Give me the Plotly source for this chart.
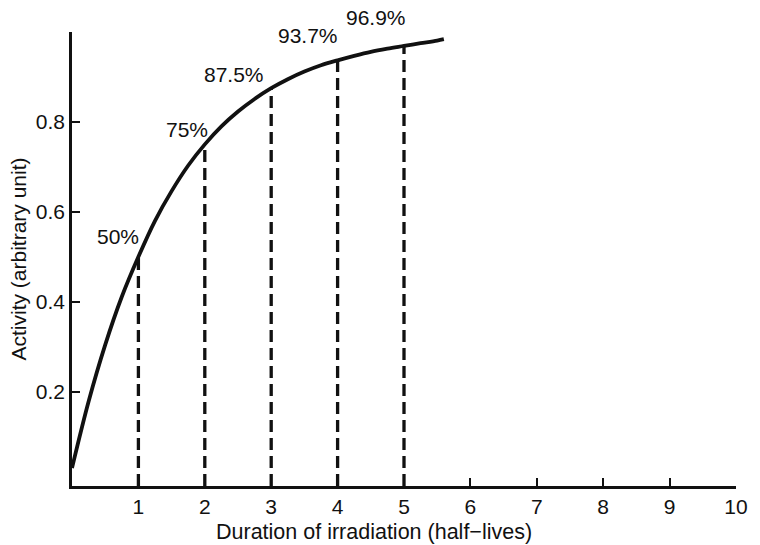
import plotly.graph_objects as go

# Activity build-up during irradiation (points along the curve, every quarter half-life)
curve_x = [0.0, 0.25, 0.5, 0.75, 1.0, 1.25, 1.5, 1.75, 2.0, 2.25, 2.5, 2.75, 3.0,
           3.25, 3.5, 3.75, 4.0, 4.25, 4.5, 4.75, 5.0, 5.25, 5.5, 5.6]
curve_y = [0.03, 0.178, 0.304, 0.411, 0.5, 0.58, 0.646, 0.703, 0.75, 0.79, 0.823, 0.851,
           0.875, 0.895, 0.912, 0.926, 0.937, 0.947, 0.956, 0.963, 0.969, 0.975, 0.981, 0.984]

# Marked half-lives and their saturation fractions
half_lives = [1, 2, 3, 4, 5]
fractions = [0.5, 0.75, 0.875, 0.937, 0.969]
fraction_labels = ["50%", "75%", "87.5%", "93.7%", "96.9%"]
label_x = [0.70, 1.73, 2.44, 3.56, 4.58]
label_y = [0.546, 0.783, 0.906, 0.992, 1.033]

x_ticks = [1, 2, 3, 4, 5, 6, 7, 8, 9, 10]
y_ticks = [0.2, 0.4, 0.6, 0.8, 1.0]
y_tick_text = ["0.2", "0.4", "0.6", "0.8", ""]

X_RANGE = [0, 10]
Y_RANGE = [-0.01, 1.0]

FONT = "Liberation Sans, Arial, Helvetica, sans-serif"
INK = "#111111"
FS = 21

fig = go.Figure()

# Vertical dashed drops from each marked half-life up to the curve
for hx, fy in zip(half_lives, fractions):
    fig.add_trace(go.Scatter(
        x=[hx, hx], y=[Y_RANGE[0], fy], mode="lines",
        line=dict(color=INK, width=3.3, dash="12px,6px"),
        hoverinfo="skip", showlegend=False, cliponaxis=False,
    ))

fig.add_trace(go.Scatter(
    x=curve_x, y=curve_y, mode="lines",
    line=dict(color=INK, width=3.8, shape="spline", smoothing=1.0),
    showlegend=False, cliponaxis=False,
))


def to_paper(v, rng):
    return (v - rng[0]) / (rng[1] - rng[0])


# Percentage labels next to the curve (paper coordinates so the top one
# may sit above the axis range)
for tx, ty, t in zip(label_x, label_y, fraction_labels):
    fig.add_annotation(
        x=to_paper(tx, X_RANGE), y=to_paper(ty, Y_RANGE),
        xref="paper", yref="paper", text=t, showarrow=False,
        font=dict(family=FONT, size=FS, color=INK),
        xanchor="center", yanchor="middle",
    )

fig.add_annotation(
    x=(379 - 72) / 674, y=-0.102, xref="paper", yref="paper",
    text="Duration of irradiation (half\u2212lives)", showarrow=False,
    font=dict(family=FONT, size=21.5, color=INK),
    xanchor="center", yanchor="middle",
)

fig.update_layout(
    width=760, height=545,
    margin=dict(l=72, r=14, t=32, b=59),
    paper_bgcolor="white", plot_bgcolor="white",
    font=dict(family=FONT, size=FS, color=INK),
    showlegend=False,
)

fig.update_xaxes(
    range=X_RANGE, tickvals=x_ticks,
    tickfont=dict(family=FONT, size=FS, color=INK),
    ticks="inside", ticklen=8, tickwidth=2, tickcolor=INK,
    showline=True, linecolor=INK, linewidth=2.5,
    showgrid=False, zeroline=False,
)
fig.update_yaxes(
    range=Y_RANGE, tickvals=y_ticks, ticktext=y_tick_text,
    tickfont=dict(family=FONT, size=FS, color=INK),
    ticks="inside", ticklen=8, tickwidth=2, tickcolor=INK,
    showline=True, linecolor=INK, linewidth=2.5,
    showgrid=False, zeroline=False,
    title=dict(text="Activity (arbitrary unit)", standoff=4,
               font=dict(family=FONT, size=FS, color=INK)),
)

fig.write_html("out.html")
